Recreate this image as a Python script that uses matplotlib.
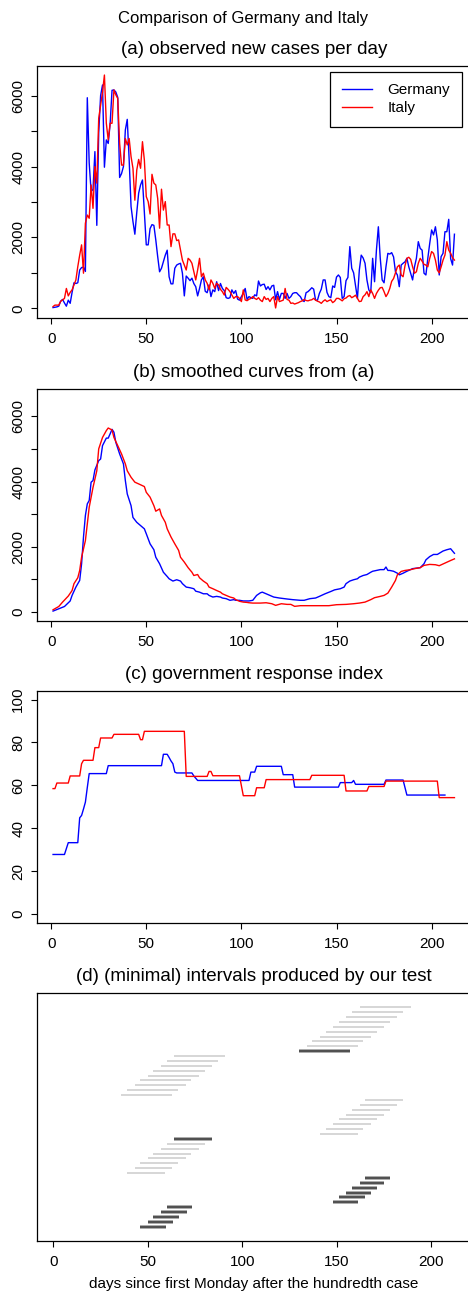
import numpy as np
import matplotlib
matplotlib.use("Agg")
import matplotlib.pyplot as plt

plt.rcParams['font.family'] = ['Liberation Sans', 'DejaVu Sans']

# ---- (a) observed new cases per day, day 1..212
days = np.arange(1, 213)
germany_new = [
    20, 30, 40, 60, 200, 250, 150, 60, 230, 140,
    450, 720, 700, 720, 1080, 1150, 1160, 1040, 5940, 4100,
    3300, 3350, 4420, 2340, 4950, 6000, 6300, 3980, 4750, 4650,
    5200, 6150, 6160, 6100, 5950, 3690, 3800, 4000, 5030, 5330,
    4200, 2870, 2450, 2090, 2700, 3250, 3480, 3620, 2680, 1790,
    1790, 2250, 2360, 2340, 1930, 1460, 1030, 1130, 1320, 1500,
    1640, 890, 690, 690, 1130, 1220, 1250, 1270, 990, 350,
    910, 850, 780, 850, 700, 610, 350, 560, 800, 890,
    480, 440, 660, 330, 520, 470, 750, 500, 700, 560,
    500, 300, 280, 300, 520, 420, 500, 260, 230, 330,
    420, 560, 250, 330, 300, 280, 380, 350, 770, 630,
    670, 680, 530, 610, 520, 630, 650, 240, 470, 250,
    420, 420, 280, 420, 280, 330, 420, 440, 440, 380,
    330, 230, 190, 440, 470, 520, 580, 540, 230, 230,
    420, 540, 800, 800, 450, 330, 300, 630, 590, 880,
    940, 870, 280, 330, 780, 870, 1740, 1130, 1000, 630,
    280, 1080, 1500, 1420, 1270, 800, 520, 440, 1410, 750,
    1650, 2300, 1410, 800, 720, 1170, 1550, 1530, 1570, 1450,
    1030, 940, 610, 1220, 1270, 1310, 1410, 1170, 990, 800,
    1170, 1410, 1880, 1690, 1640, 990, 940, 1410, 1830, 2210,
    2070, 2300, 1930, 940, 1460, 1550, 2160, 2160, 2510, 1400,
    1220, 2090]
italy_new = [
    50, 90, 90, 90, 200, 235, 280, 560, 350, 450,
    520, 660, 800, 1175, 1500, 1790, 990, 2400, 2630, 2540,
    3480, 2820, 4000, 3530, 5360, 5730, 6100, 6580, 5220, 4750,
    5220, 5220, 6160, 6020, 5920, 4650, 4040, 4040, 4790, 4610,
    4790, 4280, 3950, 3050, 3900, 4200, 3950, 4700, 4180, 3150,
    3010, 2660, 3780, 3530, 3480, 3100, 2260, 3360, 2770, 3010,
    2350, 2350, 1740, 2100, 2100, 1910, 1930, 1650, 1360, 1220,
    1080, 1410, 1360, 1270, 1030, 800, 1080, 1410, 890, 990,
    800, 705, 520, 800, 705, 565, 705, 660, 535, 470,
    375, 590, 535, 470, 375, 280, 330, 330, 280, 190,
    520, 235, 215, 255, 280, 330, 280, 250, 300, 230,
    190, 330, 250, 280, 190, 280, 330, 10, 330, 190,
    210, 230, 560, 250, 230, 140, 150, 120, 140, 160,
    190, 210, 250, 220, 210, 230, 240, 280, 230, 200,
    180, 140, 200, 240, 190, 220, 240, 160, 200, 280,
    280, 250, 210, 270, 290, 340, 360, 300, 330, 370,
    280, 190, 200, 330, 380, 470, 330, 520, 420, 280,
    420, 510, 580, 590, 470, 330, 420, 560, 760, 840,
    1000, 1170, 1220, 940, 890, 1200, 1410, 1440, 1380, 1170,
    990, 1030, 1270, 1410, 1330, 1240, 1220, 1170, 1410, 1600,
    1550, 1360, 1080, 1000, 1170, 1360, 1500, 1880, 1640, 1550,
    1430, 1360]

# ---- (b) smoothed curves
smooth_days_de = [1, 4, 7, 10, 11, 13, 15, 16, 17, 18, 19, 20, 21, 22, 23, 25, 26, 27, 29, 30,
                  31, 32, 33, 34, 36, 38, 39, 40, 42, 43, 45, 47, 49, 50, 52, 54, 55, 57, 59, 61,
                  62, 64, 66, 68, 69, 71, 73, 75, 76, 78, 80, 82, 83, 85, 87, 89, 90, 92, 94, 96,
                  97, 99, 101, 103, 104, 106, 108, 110, 111, 113, 115, 117, 120, 124, 127, 131, 133, 136, 139, 141,
                  144, 147, 149, 152, 154, 155, 157, 159, 161, 162, 164, 166, 168, 169, 171, 173, 175, 176, 177, 178,
                  180, 182, 183, 185, 187, 190, 194, 196, 197, 199, 201, 203, 204, 206, 208, 210, 211, 212]
smooth_de = [30, 100, 170, 340, 510, 765, 970, 1480, 2300, 2960, 3315, 3420, 3980, 4030, 4355, 4640, 4690, 5100, 5330, 5330,
             5460, 5600, 5510, 5200, 4845, 4540, 4030, 3620, 3260, 2900, 2750, 2650, 2550, 2400, 2090, 1910, 1680, 1480, 1220, 1090,
             1020, 950, 990, 950, 870, 765, 745, 715, 640, 610, 560, 560, 510, 460, 480, 460, 430, 410, 360, 380,
             360, 360, 340, 340, 340, 360, 510, 590, 610, 560, 510, 460, 430, 400, 380, 360, 360, 410, 430, 480,
             560, 630, 680, 715, 765, 870, 950, 990, 1020, 1070, 1120, 1150, 1220, 1250, 1275, 1300, 1300, 1380, 1275, 1275,
             1250, 1190, 1140, 1190, 1250, 1330, 1360, 1480, 1600, 1700, 1765, 1765, 1800, 1870, 1910, 1940, 1870, 1800]
smooth_days_it = [1, 4, 6, 9, 11, 12, 14, 15, 16, 18, 19, 20, 22, 24, 25, 27, 29, 30, 32, 33,
                  35, 37, 39, 40, 42, 44, 47, 49, 50, 52, 54, 55, 57, 58, 60, 61, 63, 65, 67, 68,
                  70, 72, 74, 75, 77, 78, 80, 82, 83, 85, 87, 89, 90, 92, 94, 96, 97, 99, 101, 103,
                  104, 106, 110, 113, 116, 118, 121, 124, 126, 128, 131, 136, 141, 146, 150, 155, 159, 162, 165, 168,
                  170, 173, 175, 177, 179, 181, 182, 184, 186, 189, 191, 194, 196, 199, 202, 204, 207, 210, 212]
smooth_it = [70, 170, 305, 490, 660, 870, 1050, 1275, 1680, 2190, 2700, 3210, 3820, 4330, 5000, 5350, 5560, 5640, 5580, 5350,
             5100, 4845, 4540, 4330, 4130, 3980, 3900, 3845, 3670, 3520, 3260, 3090, 3160, 2960, 2750, 2550, 2300, 2090, 1890, 1680,
             1530, 1360, 1220, 1120, 1150, 1050, 950, 870, 765, 715, 660, 610, 560, 510, 460, 430, 380, 330, 305, 295,
             285, 275, 275, 285, 255, 205, 255, 235, 235, 175, 195, 195, 195, 195, 225, 235, 255, 275, 305, 380,
             440, 480, 510, 580, 765, 970, 1140, 1245, 1275, 1300, 1330, 1360, 1430, 1460, 1450, 1420, 1500, 1580, 1630]

# ---- (c) government response index (corner points of the step curves)
resp_days_de = [1, 7, 9, 14, 15, 16, 17, 18, 19, 20, 29, 30, 58, 59, 61, 62, 63, 64, 65, 66,
                74, 75, 77, 104, 105, 107, 108, 121, 122, 127, 128, 151, 152, 158, 159, 160, 175, 176, 185, 187, 207]
resp_de = [27.8, 27.8, 33.3, 33.3, 44.9, 46.0, 49.0, 52.2, 59.0, 65.5, 65.5, 69.2, 69.2, 74.5, 74.5, 73.0, 71.4, 70.1, 66.2, 65.8,
           65.8, 64.4, 62.3, 62.3, 66.2, 66.2, 68.9, 68.9, 65.0, 65.0, 59.2, 59.2, 61.3, 61.3, 62.3, 60.5, 60.5, 62.5, 62.5, 55.5, 55.5]
resp_days_it = [1, 2, 3, 9, 10, 15, 16, 17, 22, 23, 25, 26, 32, 33, 46, 47, 48, 49, 70, 71,
                82, 83, 84, 85, 99, 101, 107, 108, 112, 113, 136, 137, 154, 155, 166, 167, 175, 176, 203, 204, 212]
resp_it = [58.5, 58.5, 61.1, 61.1, 64.4, 64.4, 70.1, 71.7, 71.7, 77.6, 77.6, 82.1, 82.1, 83.8, 83.8, 81.3, 81.3, 85.2, 85.2, 64.2,
           64.2, 66.5, 66.5, 64.5, 64.5, 55.2, 55.2, 58.9, 58.9, 62.7, 62.7, 64.7, 64.7, 57.4, 57.4, 59.5, 59.5, 62.0, 62.0, 54.3, 54.3]

# ---- (d) intervals, listed from top to bottom
iv_start = [162, 158, 155, 151, 148, 144, 141, 137, 134, 130,
            64, 60, 57, 53, 50, 46, 43, 39, 36,
            165, 162, 158, 155, 151, 148, 144, 141,
            64, 60, 57, 53, 50, 46, 43, 39,
            165, 162, 158, 155, 151, 148,
            60, 57, 53, 50, 46]
iv_end = [189, 185, 182, 178, 175, 171, 168, 164, 161, 157,
          91, 87, 84, 80, 77, 73, 70, 66, 63,
          185, 182, 178, 175, 171, 168, 164, 161,
          84, 80, 77, 73, 70, 66, 63, 59,
          178, 175, 171, 168, 165, 161,
          73.5, 70.5, 66.5, 63.5, 59.5]
iv_minimal = [0, 0, 0, 0, 0, 0, 0, 0, 0, 1,
              0, 0, 0, 0, 0, 0, 0, 0, 0,
              0, 0, 0, 0, 0, 0, 0, 0,
              1, 0, 0, 0, 0, 0, 0, 0,
              1, 1, 1, 1, 1, 1,
              1, 1, 1, 1, 1]

W, H = 468, 1296
fig = plt.figure(figsize=(W / 100, H / 100), dpi=100)


def box(top, bottom, left=37.0, right=470.5):
    return [left / W, 1 - bottom / H, (right - left) / W, (bottom - top) / H]


def style(ax, title):
    for s in ax.spines.values():
        s.set_linewidth(0.9)
        s.set_color('black')
    ax.tick_params(direction='out', length=4.5, width=0.8, labelsize=11, pad=4)
    ax.tick_params(axis='x', pad=5.5)
    ax.set_xticks([0, 50, 100, 150, 200])
    ax.annotate(title, (0.5, 1), xycoords='axes fraction', xytext=(0, 12),
                textcoords='offset points', ha='center', va='center', fontsize=13.5)


def cases_yaxis(ax):
    ax.set_ylim(-265, 6835)
    ax.set_yticks(np.arange(0, 6001, 1000))
    ax.set_yticklabels(['0', '', '2000', '', '4000', '', '6000'], rotation=90, va='center')


fig.text(243 / W, 1 - 18 / H, 'Comparison of Germany and Italy', ha='center', va='center', fontsize=12)

# (a)
ax = fig.add_axes(box(66, 317.7))
ax.plot(days, germany_new, color='blue', lw=1.0, label='Germany')
ax.plot(days, italy_new, color='red', lw=1.0, label='Italy')
ax.set_xlim(-7.44, 220.44)
cases_yaxis(ax)
style(ax, '(a) observed new cases per day')
ax.legend(loc='upper right', bbox_to_anchor=(0.980, 0.977), borderaxespad=0, fontsize=11,
          fancybox=False, edgecolor='black', framealpha=1, handlelength=2.0,
          handletextpad=1.0, borderpad=0.75, labelspacing=0.25).get_frame().set_linewidth(0.9)

# (b)
ax = fig.add_axes(box(389, 620.7))
ax.plot(smooth_days_de, smooth_de, color='blue', lw=1.0)
ax.plot(smooth_days_it, smooth_it, color='red', lw=1.0)
ax.set_xlim(-7.44, 220.44)
cases_yaxis(ax)
style(ax, '(b) smoothed curves from (a)')

# (c)
ax = fig.add_axes(box(691, 922.7))
ax.plot(resp_days_de, resp_de, color='blue', lw=1.0)
ax.plot(resp_days_it, resp_it, color='red', lw=1.0)
ax.set_xlim(-7.44, 220.44)
ax.set_ylim(-4, 104)
ax.set_yticks([0, 20, 40, 60, 80, 100])
ax.set_yticklabels(['0', '20', '40', '60', '80', '100'], rotation=90, va='center')
style(ax, '(c) government response index')

# (d)
ax = fig.add_axes(box(993.3, 1240.7, left=37.3))
n = len(iv_start)
rows = np.arange(n, 0, -1)
for y, a, b, m in zip(rows, iv_start, iv_end, iv_minimal):
    if m:
        ax.plot([a, b], [y, y], color='#9a9a9a', lw=2.6, solid_capstyle='butt')
        ax.plot([a, b], [y, y], color='#4f4f4f', lw=1.4, solid_capstyle='butt')
    else:
        ax.plot([a, b], [y, y], color='#cfcfcf', lw=1.2, solid_capstyle='butt')
ax.set_xlim(-8.47, 220.7)
ax.set_ylim(1 - 2.87, n + 2.87)
ax.set_yticks([])
style(ax, '(d) (minimal) intervals produced by our test')
ax.set_xlabel('days since first Monday after the hundredth case', fontsize=11, labelpad=6)

fig.savefig('out.png', dpi=100)
